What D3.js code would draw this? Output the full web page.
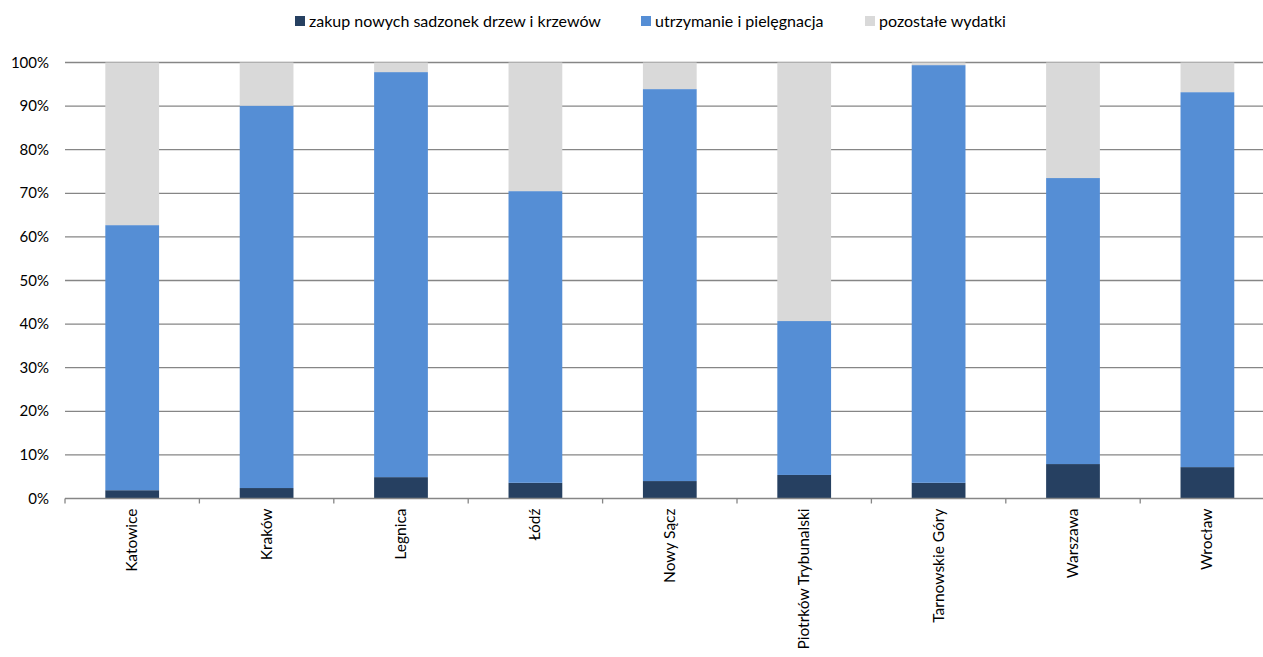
<!DOCTYPE html>
<html>
<head>
<meta charset="utf-8">
<script src="https://d3js.org/d3.v7.min.js"></script>
<style>
  body { margin: 0; background: #fff; overflow: hidden; }
  text { font-family: Lato, "Open Sans", sans-serif; fill: #000; }
</style>
</head>
<body>
<svg id="chart" width="1263" height="657"></svg>
<script>
    const cities = ["Katowice", "Kraków", "Legnica", "Łódź", "Nowy Sącz", "Piotrków Trybunalski", "Tarnowskie Góry", "Warszawa", "Wrocław"];
    const zakup = [1.9, 2.4, 4.9, 3.6, 4.0, 5.4, 3.6, 7.9, 7.2];
    const utrzymanie = [60.8, 87.7, 92.9, 66.9, 89.9, 35.3, 95.8, 65.6, 86.0];
    const pozostale = [37.3, 9.9, 2.2, 29.5, 6.1, 59.3, 0.6, 26.5, 6.8];
    const seriesNames = ["zakup nowych sadzonek drzew i krzewów", "utrzymanie i pielęgnacja", "pozostałe wydatki"];
    const colors = ["#264061", "#558ed5", "#d9d9d9"];
    const yTicks = [0, 10, 20, 30, 40, 50, 60, 70, 80, 90, 100];

    (function() {
        const svg = d3.select("#chart");
        const plotLeft = 65, plotRight = 1274.6, plotTop = 62.5, plotBottom = 498.5;

        const x = d3.scaleBand().domain(cities).range([plotLeft, plotRight]).paddingInner(0.6).paddingOuter(0.3);
        const y = d3.scaleLinear().domain([0, 100]).range([plotBottom, plotTop]);

        // gridlines
        svg.append("g").selectAll("line")
            .data(yTicks.filter(d => d > 0))
            .enter().append("line")
            .attr("x1", plotLeft).attr("x2", plotRight)
            .attr("y1", d => y(d)).attr("y2", d => y(d))
            .attr("stroke", "#868686").attr("stroke-width", 1.3);

        svg.append("g").selectAll("text")
            .data(yTicks)
            .enter().append("text")
            .attr("x", 49).attr("y", d => y(d) + 5)
            .attr("text-anchor", "end")
            .style("font-size", "15px")
            .text(d => d + "%");

        // stacked bars
        const rows = cities.map((c, i) => ({city: c, s0: zakup[i], s1: utrzymanie[i], s2: pozostale[i]}));
        const stack = d3.stack().keys(["s0", "s1", "s2"])(rows);

        svg.append("g").selectAll("g")
            .data(stack)
            .enter().append("g")
            .attr("fill", (d, i) => colors[i])
            .selectAll("rect")
            .data(d => d)
            .enter().append("rect")
            .attr("x", d => x(d.data.city))
            .attr("width", x.bandwidth())
            .attr("y", d => y(d[1]))
            .attr("height", d => y(d[0]) - y(d[1]));

        // x axis
        svg.append("line")
            .attr("x1", plotLeft).attr("x2", plotRight)
            .attr("y1", plotBottom).attr("y2", plotBottom)
            .attr("stroke", "#868686").attr("stroke-width", 1.5);

        const step = (plotRight - plotLeft) / cities.length;
        svg.append("g").selectAll("line")
            .data(d3.range(cities.length + 1))
            .enter().append("line")
            .attr("x1", d => plotLeft + d * step).attr("x2", d => plotLeft + d * step)
            .attr("y1", plotBottom).attr("y2", plotBottom + 5)
            .attr("stroke", "#868686").attr("stroke-width", 1.3);

        svg.append("g").selectAll("text")
            .data(cities)
            .enter().append("text")
            .attr("transform", d => "translate(" + (x(d) + x.bandwidth() / 2 + 5) + "," + (plotBottom + 10) + ") rotate(-90)")
            .attr("text-anchor", "end")
            .style("font-size", "15.5px")
            .text(d => d);

        // legend
        const legendX = [295, 641, 865];
        const legend = svg.append("g").selectAll("g")
            .data(seriesNames)
            .enter().append("g")
            .attr("transform", (d, i) => "translate(" + legendX[i] + ",16)");
        legend.append("rect").attr("width", 10).attr("height", 10).attr("fill", (d, i) => colors[i]);
        legend.append("text").attr("x", 14).attr("y", 10.5).style("font-size", "16px").text(d => d);
    })();
</script>
</body>
</html>
